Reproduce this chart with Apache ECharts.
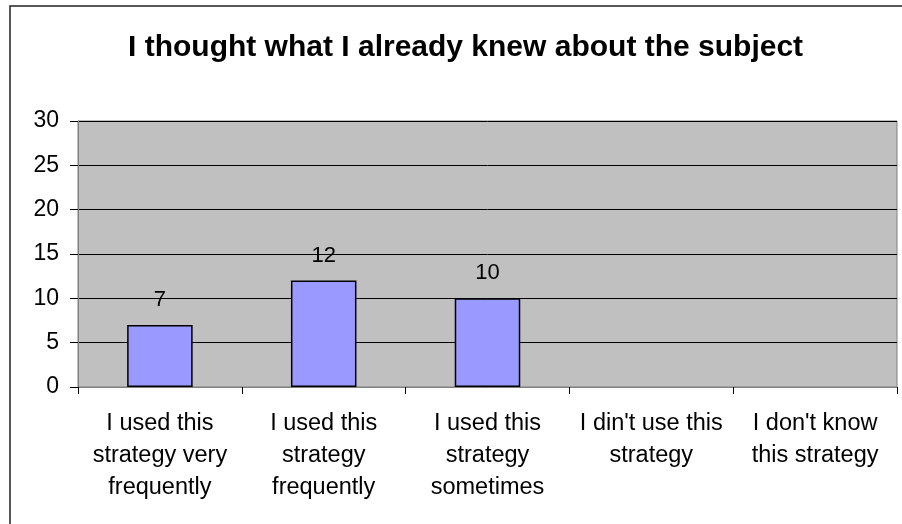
<!DOCTYPE html>
<html>
<head>
<meta charset="utf-8">
<script src="https://cdn.jsdelivr.net/npm/echarts@6/dist/echarts.min.js"></script>
<style>
html,body{margin:0;padding:0;background:#fff;}
#c{width:902px;height:524px;}
</style>
</head>
<body>
<div id="c"></div>
<script>
var titleText = "I thought what I already knew about the subject";
var categories = [
  "I used this\nstrategy very\nfrequently",
  "I used this\nstrategy\nfrequently",
  "I used this\nstrategy\nsometimes",
  "I din't use this\nstrategy",
  "I don't know\nthis strategy"
];
var values = [7, 12, 10, null, null];
var yMin = 0, yMax = 30, yStep = 5;

var FONT = "'Liberation Sans', Arial, sans-serif";
var chart = echarts.init(document.getElementById('c'), null, {renderer: 'canvas'});
chart.setOption({
  animation: false,
  backgroundColor: '#ffffff',
  title: {
    text: titleText,
    left: 123,
    top: 28,
    textStyle: {fontFamily: FONT, fontSize: 30, fontWeight: 'bold', color: '#000'}
  },
  graphic: [
    {type: 'rect', shape: {x: 10, y: 6, width: 920, height: 540},
     style: {fill: 'none', stroke: '#222', lineWidth: 1.5}, z: 100}
  ],
  grid: {
    left: 78, right: 5, top: 121, bottom: 137,
    show: true, backgroundColor: '#C0C0C0', borderColor: '#808080', borderWidth: 1
  },
  xAxis: {
    type: 'category',
    data: categories,
    axisLine: {show: true, lineStyle: {color: '#808080', width: 1}},
    axisTick: {show: true, alignWithLabel: false, length: 7, lineStyle: {color: '#000'}},
    axisLabel: {
      interval: 0, margin: 21, color: '#000', fontFamily: FONT, fontSize: 23.5, lineHeight: 32
    }
  },
  yAxis: {
    type: 'value',
    min: yMin, max: yMax, interval: yStep,
    axisLine: {show: true, lineStyle: {color: '#808080', width: 1}},
    axisTick: {show: true, length: 8, lineStyle: {color: '#000'}},
    splitLine: {show: true, lineStyle: {color: '#000', width: 1}},
    axisLabel: {margin: 19, color: '#000', fontFamily: FONT, fontSize: 23}
  },
  series: [{
    type: 'bar',
    data: values,
    barWidth: '40%',
    itemStyle: {color: '#9999FF', borderColor: '#000', borderWidth: 1.5},
    label: {
      show: true, position: 'top', distance: 14,
      color: '#000', fontFamily: FONT, fontSize: 22
    }
  }]
});
</script>
</body>
</html>
